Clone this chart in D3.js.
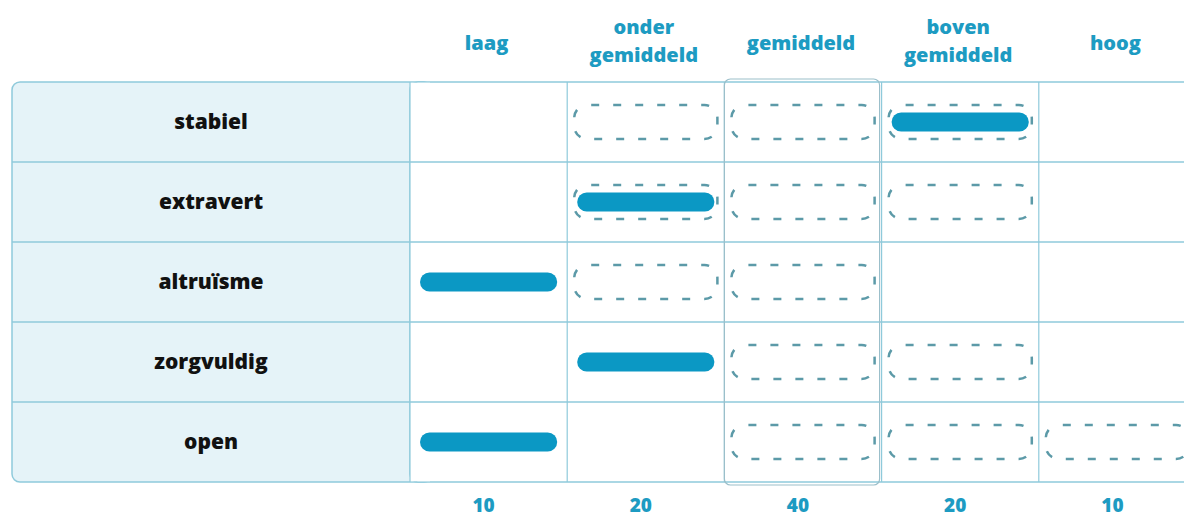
<!DOCTYPE html>
<html>
<head>
<meta charset="utf-8">
<script src="https://cdn.jsdelivr.net/npm/d3@7/dist/d3.min.js"></script>
<style>
  html, body { margin: 0; padding: 0; background: #fff; overflow: hidden; }
  svg { display: block; }
</style>
</head>
<body>
<svg id="chart" width="1184" height="517"></svg>
<script>
// Levels (columns), traits (rows) and the score per column

var levels = ["laag", "onder gemiddeld", "gemiddeld", "boven gemiddeld", "hoog"];
var levelLines = [["laag"], ["onder", "gemiddeld"], ["gemiddeld"], ["boven", "gemiddeld"], ["hoog"]];
var levelScores = [10, 20, 40, 20, 10];

var traits = ["stabiel", "extravert", "altruïsme", "zorgvuldig", "open"];
// solid bar: the level that was scored
var scored = ["boven gemiddeld", "onder gemiddeld", "laag", "onder gemiddeld", "laag"];
// dashed outlines: expected range per trait
var rangeFrom = ["onder gemiddeld", "onder gemiddeld", "onder gemiddeld", "gemiddeld", "gemiddeld"];
var rangeTo = ["boven gemiddeld", "boven gemiddeld", "gemiddeld", "boven gemiddeld", "hoog"];

var blue = "#0b98c4",
	headBlue = "#1d9bc2",
	gridColour = "#8fcadb",
	dashColour = "#5c9aa8",
	panelFill = "#e5f3f8";

var svg = d3.select("#chart");

var x = d3.scaleBand()
	.domain(levels)
	.range([410, 1196]);

var y = d3.scaleBand()
	.domain(traits)
	.range([82, 482]);

var fontFam = "'Open Sans', 'Noto Sans', sans-serif";

// Label panel

svg.append("rect")
	.attr("x", 12)
	.attr("y", y.range()[0])
	.attr("width", 420)
	.attr("height", y.range()[1] - y.range()[0])
	.attr("rx", 8)
	.attr("fill", panelFill)
	.attr("stroke", gridColour)
	.attr("stroke-width", 1.5);

// White cell area

svg.append("rect")
	.attr("x", x.range()[0])
	.attr("y", y.range()[0])
	.attr("width", x.range()[1] - x.range()[0] + 10)
	.attr("height", y.range()[1] - y.range()[0])
	.attr("rx", 8)
	.attr("fill", "#fff")
	.attr("stroke", gridColour)
	.attr("stroke-width", 1.5);

svg.append("rect")
	.attr("x", x.range()[0])
	.attr("y", y.range()[0] + 0.75)
	.attr("width", 20)
	.attr("height", y.range()[1] - y.range()[0] - 1.5)
	.attr("fill", "#fff");

// Horizontal grid lines

svg.append("g")
	.selectAll("line")
	.data(traits.slice(1))
	.enter()
	.append("line")
	.attr("x1", 12)
	.attr("x2", 1196)
	.attr("y1", d => y(d))
	.attr("y2", d => y(d))
	.attr("stroke", gridColour)
	.attr("stroke-width", 1.5);

// Vertical grid lines

svg.append("g")
	.selectAll("line")
	.data(levels)
	.enter()
	.append("line")
	.attr("x1", d => x(d))
	.attr("x2", d => x(d))
	.attr("y1", y.range()[0])
	.attr("y2", y.range()[1])
	.attr("stroke", gridColour)
	.attr("stroke-width", 1.2);

// Box around the average column

svg.append("rect")
	.attr("x", x("gemiddeld"))
	.attr("y", y.range()[0] - 3)
	.attr("width", x.bandwidth() - 2)
	.attr("height", y.range()[1] - y.range()[0] + 6)
	.attr("rx", 6)
	.attr("fill", "none")
	.attr("stroke", "#9bbfca")
	.attr("stroke-width", 1.2);

// Row labels

svg.append("g")
	.selectAll("text")
	.data(traits)
	.enter()
	.append("text")
	.attr("x", 211)
	.attr("y", d => y(d) + y.bandwidth() / 2)
	.attr("dy", "0.35em")
	.attr("text-anchor", "middle")
	.attr("font-family", fontFam)
	.attr("font-weight", 800)
	.attr("font-size", 21)
	.attr("fill", "#111")
	.text(d => d);

// Column headers

var head = svg.append("g")
	.selectAll("text")
	.data(levels)
	.enter()
	.append("text")
	.attr("text-anchor", "middle")
	.attr("font-family", fontFam)
	.attr("font-weight", 800)
	.attr("font-size", 20)
	.attr("fill", headBlue);

head.each(function(d, i) {
	var lines = levelLines[i],
		t = d3.select(this),
		cx = x(d) + x.bandwidth() / 2 - 2;
	lines.forEach((ln, j) => {
		t.append("tspan")
			.attr("x", cx)
			.attr("y", lines.length == 1 ? 50 : 34 + j * 28)
			.text(ln);
	});
});

// Scores under the columns

svg.append("g")
	.selectAll("text")
	.data(levels)
	.enter()
	.append("text")
	.attr("x", d => x(d) + x.bandwidth() / 2 - 5)
	.attr("y", 512)
	.attr("text-anchor", "middle")
	.attr("font-family", fontFam)
	.attr("font-weight", 800)
	.attr("font-size", 19)
	.attr("fill", headBlue)
	.text((d, i) => levelScores[i]);

// Dashed outlines for the expected range

var dashed = [];
traits.forEach((t, i) => {
	var a = levels.indexOf(rangeFrom[i]),
		b = levels.indexOf(rangeTo[i]);
	for (var k = a; k <= b; k++)
		dashed.push({trait: t, level: levels[k]});
});

svg.append("g")
	.selectAll("rect")
	.data(dashed)
	.enter()
	.append("rect")
	.attr("x", d => x(d.level) + 7)
	.attr("y", d => y(d.trait) + y.bandwidth() / 2 - 17)
	.attr("width", x.bandwidth() - 14)
	.attr("height", 34)
	.attr("rx", 13)
	.attr("fill", "none")
	.attr("stroke", dashColour)
	.attr("stroke-width", 2.5)
	.attr("stroke-dasharray", "8 14")
	.attr("stroke-dashoffset", -4);

// Solid bars for the scored level

svg.append("g")
	.selectAll("rect")
	.data(traits)
	.enter()
	.append("rect")
	.attr("x", (d, i) => x(scored[i]) + 10)
	.attr("y", d => y(d) + y.bandwidth() / 2 - 9.5)
	.attr("width", x.bandwidth() - 20)
	.attr("height", 19)
	.attr("rx", 9.5)
	.attr("fill", blue);
</script>
</body>
</html>
